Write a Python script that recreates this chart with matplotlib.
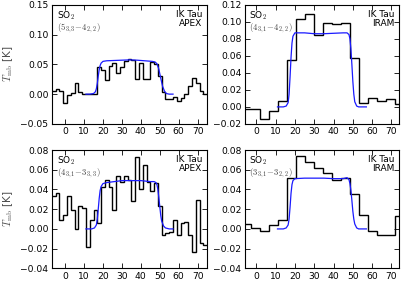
import matplotlib
matplotlib.use("Agg")
import matplotlib.pyplot as plt

# ---------------- data ----------------
# APEX channel edges (km/s)
apex_edges = [-7, -5, -3, -1, 1, 3, 5, 7, 9, 11, 13, 15, 17, 19, 21, 23, 25, 27, 29, 31,
              33, 35, 37, 39, 41, 43, 45, 47, 49, 51, 53, 55, 57, 59, 61, 63, 65, 67, 69,
              71, 73, 75]
# IRAM channel edges (km/s)
iram_edges = [-7.42, -2.75, 1.92, 6.59, 11.26, 15.93, 20.60, 25.27, 29.94, 34.61, 39.28,
              43.95, 48.62, 53.29, 57.96, 62.63, 67.30, 71.97, 76.64]

# SO2 5(3,3)-4(2,2), APEX
so2_533_apex = [0.005, 0.008, 0.0055, -0.015, -0.002, 0.002, 0.018, 0.003, 0.0, 0.0, 0.0, 0.001,
                0.046, 0.040, 0.024, 0.048, 0.052, 0.036, 0.046, 0.055,
                0.059, 0.057, 0.025, 0.052, 0.025, 0.025, 0.054, 0.050, 0.030, 0.004,
                -0.009, -0.008, -0.004, -0.012, -0.007, 0.000, 0.013, 0.027, 0.018, 0.005, 0.000]
# SO2 4(3,1)-4(2,2), IRAM
so2_431_iram = [-0.003, -0.003, -0.014, -0.0054, 0.007, 0.055, 0.103, 0.109, 0.085, 0.098,
                0.0975, 0.098, 0.057, 0.004, 0.010, 0.0074, 0.009, 0.003]
# SO2 4(3,1)-3(3,3), APEX
so2_431_apex = [0.033, 0.036, 0.009, 0.014, 0.033, 0.019, 0.000, 0.023, 0.021, -0.018, 0.009,
                0.019, 0.006, 0.043, 0.050, 0.043, 0.019, 0.054, 0.048, 0.054, 0.050, 0.028,
                0.073, 0.040, 0.065, 0.048, 0.038, 0.047, 0.023, -0.006, -0.004, -0.003,
                0.009, -0.006, 0.006, 0.007, -0.006, -0.023, 0.029, -0.014, -0.016]
# SO2 3(3,1)-3(2,2), IRAM
so2_331_iram = [0.0054, 0.001, -0.0024, 0.004, 0.009, 0.052, 0.0735, 0.068, 0.062, 0.057,
                0.050, 0.052, 0.035, 0.0145, -0.0024, -0.0057, -0.0064, 0.0128]

# model profiles
m1_v = [11, 13, 15, 16, 16.5, 17, 17.5, 18, 18.5, 19, 20, 22, 26, 30, 34, 38, 42, 46, 47.5,
        48.5, 49.5, 50.5, 51.5, 52.5, 53.5, 55, 57]
m1_t = [0, 0, 0.001, 0.004, 0.009, 0.018, 0.030, 0.041, 0.048, 0.052, 0.055, 0.056, 0.0565,
        0.057, 0.0575, 0.057, 0.056, 0.055, 0.054, 0.051, 0.042, 0.027, 0.013, 0.005, 0.001, 0, 0]
m2_v = [11, 14, 15.5, 16.5, 17, 17.5, 18, 18.5, 19, 20, 25, 30, 35, 40, 45, 47, 48, 48.5, 49,
        49.5, 50, 50.5, 51, 52, 53, 55, 57]
m2_t = [0, 0, 0.001, 0.005, 0.015, 0.035, 0.058, 0.075, 0.083, 0.087, 0.087, 0.086, 0.086,
        0.0865, 0.087, 0.087, 0.085, 0.080, 0.068, 0.050, 0.030, 0.015, 0.006, 0.001, 0, 0, 0]
m3_v = [11, 14, 15.5, 16.5, 17, 17.5, 18, 18.5, 19, 20, 22, 26, 30, 35, 40, 45, 47, 48, 48.5,
        49, 49.5, 50, 50.5, 51, 52, 53, 55, 57]
m3_t = [0, 0, 0.001, 0.004, 0.010, 0.020, 0.031, 0.039, 0.043, 0.046, 0.047, 0.048, 0.049,
        0.049, 0.049, 0.048, 0.048, 0.047, 0.045, 0.040, 0.032, 0.023, 0.014, 0.008, 0.003,
        0.001, 0, 0]
m4_v = [11, 14, 15.5, 16.5, 17, 17.5, 18, 18.5, 19, 20, 25, 30, 35, 40, 45, 47, 48, 48.5, 49,
        49.5, 50, 50.5, 51, 52, 53, 55, 57]
m4_t = [0, 0, 0.001, 0.004, 0.010, 0.022, 0.036, 0.045, 0.049, 0.051, 0.0515, 0.0515, 0.0515,
        0.051, 0.051, 0.052, 0.050, 0.046, 0.039, 0.029, 0.018, 0.010, 0.005, 0.001, 0, 0, 0]

labels_mol = [r"$(5_{3,3}\!-\!4_{2,2})$", r"$(4_{3,1}\!-\!4_{2,2})$",
              r"$(4_{3,1}\!-\!3_{3,3})$", r"$(3_{3,1}\!-\!3_{2,2})$"]
telescopes = ["APEX", "IRAM", "APEX", "IRAM"]
xticks = [0, 10, 20, 30, 40, 50, 60, 70]
yticks_list = [[-0.05, 0.00, 0.05, 0.10, 0.15],
               [-0.02, 0.00, 0.02, 0.04, 0.06, 0.08, 0.10, 0.12],
               [-0.04, -0.02, 0.00, 0.02, 0.04, 0.06, 0.08],
               [-0.04, -0.02, 0.00, 0.02, 0.04, 0.06, 0.08]]

# ---------------- plot ----------------
plt.rcParams['font.family'] = ['DejaVu Sans']
plt.rcParams['mathtext.fontset'] = 'cm'

fig = plt.figure(figsize=(4.15, 2.81), dpi=100)
positions = [[0.125, 0.559, 0.374, 0.424],
             [0.590, 0.559, 0.371, 0.424],
             [0.125, 0.045, 0.374, 0.421],
             [0.590, 0.045, 0.371, 0.421]]
spectra = [(apex_edges, so2_533_apex), (iram_edges, so2_431_iram),
           (apex_edges, so2_431_apex), (iram_edges, so2_331_iram)]
models = [(m1_v, m1_t), (m2_v, m2_t), (m3_v, m3_t), (m4_v, m4_t)]
xlims = [(-7, 75), (-5.9, 73.8), (-7, 75), (-5.9, 73.8)]

for i in range(4):
    ax = fig.add_axes(positions[i])
    edges, vals = spectra[i]
    ax.stairs(vals, edges, color='black', lw=1.0, baseline=None)
    mv, mt = models[i]
    ax.plot(mv, mt, color='#1a1aff', lw=0.9)
    ax.set_xlim(*xlims[i])
    yt = yticks_list[i]
    ax.set_ylim(yt[0], yt[-1])
    ax.set_xticks(xticks)
    ax.set_yticks(yt)
    ax.set_yticklabels([f"{v:.2f}".replace('-', '\u2212') for v in yt])
    ax.tick_params(direction='in', top=True, right=True, labelsize=6.6, length=3.5,
                   width=0.6, pad=2.5)
    for s in ax.spines.values():
        s.set_linewidth(0.8)
    ax.text(0.03, 0.96, r"SO$_2$", transform=ax.transAxes, ha='left', va='top', fontsize=6.5)
    ax.text(0.03, 0.862, labels_mol[i], transform=ax.transAxes, ha='left', va='top',
            fontsize=6.3, color='0.25')
    ax.text(0.97, 0.96, "IK Tau\n" + telescopes[i], transform=ax.transAxes, ha='right',
            va='top', fontsize=6.5, linespacing=1.1, multialignment='right')
    if i % 2 == 0:
        ax.set_ylabel(r"$T_{\rm mb}$ [K]", fontsize=7.5, color='0.3', labelpad=4)

fig.savefig("out.png", dpi=100)
